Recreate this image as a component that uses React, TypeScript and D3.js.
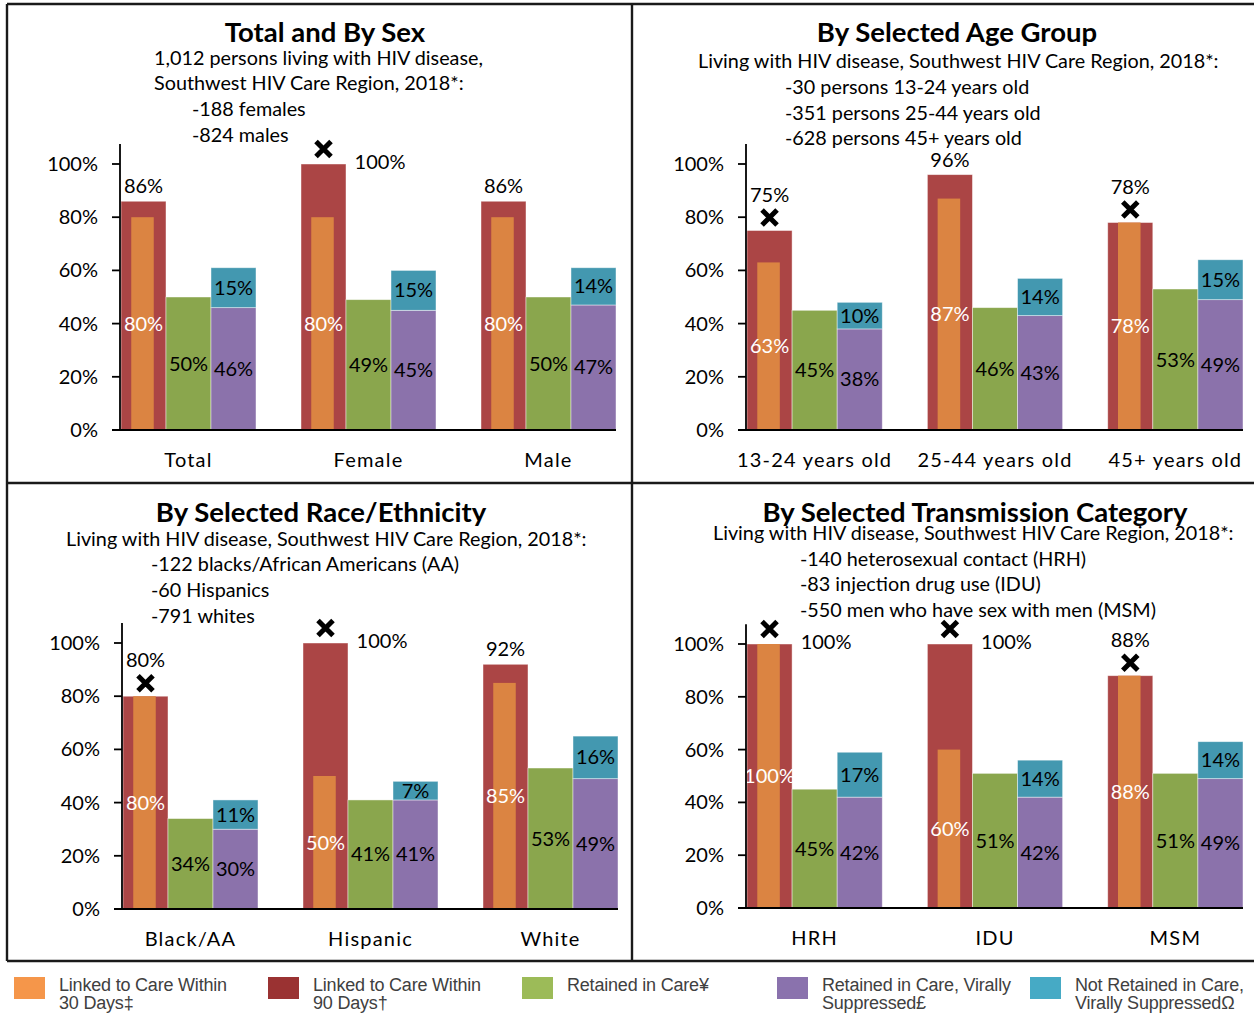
import React from "react";
import * as d3 from "d3";

// ---------- DATA ----------
const sexCategories = ["Total", "Female", "Male"];
const sexLinked90 = [86, 100, 86];
const sexLinked30 = [80, 80, 80];
const sexRetained = [50, 49, 50];
const sexSuppressed = [46, 45, 47];
const sexNotRetained = [15, 15, 14];
const sexMarked = [false, true, false];
const sexTitle = "Total and By Sex";
const sexNotes = [
  "1,012 persons living with HIV disease,",
  "Southwest HIV Care Region, 2018*:",
  "-188 females",
  "-824 males",
];

const ageCategories = ["13-24 years old", "25-44 years old", "45+ years old"];
const ageLinked90 = [75, 96, 78];
const ageLinked30 = [63, 87, 78];
const ageRetained = [45, 46, 53];
const ageSuppressed = [38, 43, 49];
const ageNotRetained = [10, 14, 15];
const ageMarked = [true, false, true];
const ageTitle = "By Selected Age Group";
const ageNotes = [
  "Living with HIV disease, Southwest HIV Care Region, 2018*:",
  "-30 persons 13-24 years old",
  "-351 persons 25-44 years old",
  "-628 persons 45+ years old",
];

const raceCategories = ["Black/AA", "Hispanic", "White"];
const raceLinked90 = [80, 100, 92];
const raceLinked30 = [80, 50, 85];
const raceRetained = [34, 41, 53];
const raceSuppressed = [30, 41, 49];
const raceNotRetained = [11, 7, 16];
const raceMarked = [true, true, false];
const raceTitle = "By Selected Race/Ethnicity";
const raceNotes = [
  "Living with HIV disease, Southwest HIV Care Region, 2018*:",
  "-122 blacks/African Americans (AA)",
  "-60 Hispanics",
  "-791 whites",
];

const transCategories = ["HRH", "IDU", "MSM"];
const transLinked90 = [100, 100, 88];
const transLinked30 = [100, 60, 88];
const transRetained = [45, 51, 51];
const transSuppressed = [42, 42, 49];
const transNotRetained = [17, 14, 14];
const transMarked = [true, true, true];
const transTitle = "By Selected Transmission Category";
const transNotes = [
  "Living with HIV disease, Southwest HIV Care Region, 2018*:",
  "-140 heterosexual contact (HRH)",
  "-83 injection drug use (IDU)",
  "-550 men who have sex with men (MSM)",
];

const yTicks = [0, 20, 40, 60, 80, 100];

const legendLabels = [
  ["Linked to Care Within", "30 Days\u2021"],
  ["Linked to Care Within", "90 Days\u2020"],
  ["Retained in Care\u00A5"],
  ["Retained in Care, Virally", "Suppressed\u00A3"],
  ["Not Retained in Care,", "Virally Suppressed\u03A9"],
];

// ---------- STYLE ----------
const C = {
  red: "#AB4545",
  orange: "#DB8442",
  green: "#8AA64D",
  purple: "#8B72AB",
  teal: "#4398B0",
};
const legendColors = ["#F5964A", "#9A3232", "#9CBB58", "#8A72AD", "#46AAC5"];
const FONT = "Lato, 'Open Sans', sans-serif";

type PanelData = {
  title: string;
  notes: string[];
  categories: string[];
  linked90: number[];
  linked30: number[];
  retained: number[];
  suppressed: number[];
  notRetained: number[];
  marked: boolean[];
};

type Layout = {
  titleX: number;
  titleY: number;
  notes: { x: number; y: number }[];
  xRange: [number, number];
  y0: number;
  y100: number;
  catY: number;
};

const panels: PanelData[] = [
  { title: sexTitle, notes: sexNotes, categories: sexCategories, linked90: sexLinked90, linked30: sexLinked30, retained: sexRetained, suppressed: sexSuppressed, notRetained: sexNotRetained, marked: sexMarked },
  { title: ageTitle, notes: ageNotes, categories: ageCategories, linked90: ageLinked90, linked30: ageLinked30, retained: ageRetained, suppressed: ageSuppressed, notRetained: ageNotRetained, marked: ageMarked },
  { title: raceTitle, notes: raceNotes, categories: raceCategories, linked90: raceLinked90, linked30: raceLinked30, retained: raceRetained, suppressed: raceSuppressed, notRetained: raceNotRetained, marked: raceMarked },
  { title: transTitle, notes: transNotes, categories: transCategories, linked90: transLinked90, linked30: transLinked30, retained: transRetained, suppressed: transSuppressed, notRetained: transNotRetained, marked: transMarked },
];

const layouts: Layout[] = [
  {
    titleX: 325, titleY: 32,
    notes: [{ x: 154, y: 58 }, { x: 154, y: 83 }, { x: 192, y: 109 }, { x: 192, y: 135 }],
    xRange: [121, 616], y0: 430, y100: 164, catY: 460,
  },
  {
    titleX: 957, titleY: 32,
    notes: [{ x: 698, y: 61 }, { x: 785, y: 87 }, { x: 785, y: 113 }, { x: 785, y: 138 }],
    xRange: [747, 1243], y0: 430, y100: 164, catY: 460,
  },
  {
    titleX: 321, titleY: 512,
    notes: [{ x: 66, y: 539 }, { x: 151, y: 564 }, { x: 151, y: 590 }, { x: 151, y: 616 }],
    xRange: [123, 618], y0: 909, y100: 643, catY: 939,
  },
  {
    titleX: 975, titleY: 512,
    notes: [{ x: 713, y: 533 }, { x: 800, y: 559 }, { x: 800, y: 584 }, { x: 800, y: 610 }],
    xRange: [747, 1243], y0: 908, y100: 644, catY: 938,
  },
];

function XMark({ cx, cy }: { cx: number; cy: number }) {
  const h = 7.5;
  const p = d3.path();
  p.moveTo(cx - h, cy - h);
  p.lineTo(cx + h, cy + h);
  p.moveTo(cx + h, cy - h);
  p.lineTo(cx - h, cy + h);
  return <path d={p.toString()} stroke="#000" strokeWidth={5} fill="none" />;
}

function Panel({ data, layout }: { data: PanelData; layout: Layout }) {
  const y = d3.scaleLinear().domain([0, 100]).range([layout.y0, layout.y100]);
  const x = d3
    .scaleBand<string>()
    .domain(data.categories)
    .range(layout.xRange)
    .paddingInner(0.25)
    .paddingOuter(0);
  const sub = d3
    .scaleBand<string>()
    .domain(["linked", "retained", "suppressed"])
    .range([0, x.bandwidth()]);
  const bw = sub.bandwidth();
  const axisX = layout.xRange[0] - 1;
  const edge = "rgba(255,255,255,0.55)";
  const lblSize = 20;

  return (
    <g fontFamily={FONT}>
      <text x={layout.titleX} y={layout.titleY} dy="0.35em" textAnchor="middle" fontWeight="bold" fontSize={27.5}>
        {data.title}
      </text>
      {data.notes.map((n, i) => (
        <text key={i} x={layout.notes[i].x} y={layout.notes[i].y} dy="0.35em" fontSize={19.8}>
          {n}
        </text>
      ))}

      {/* bars */}
      {data.categories.map((c, i) => {
        const x0 = x(c)!;
        const xl = x0 + sub("linked")!;
        const xr = x0 + sub("retained")!;
        const xs = x0 + sub("suppressed")!;
        const v90 = data.linked90[i];
        const v30 = data.linked30[i];
        const vr = data.retained[i];
        const vs = data.suppressed[i];
        const vn = data.notRetained[i];
        const redC = xl + bw / 2;
        const ow = bw * 0.5;
        const top90 = y(v90);
        let redLabel: React.ReactNode;
        let mark: React.ReactNode = null;
        if (v90 >= 100) {
          mark = data.marked[i] ? <XMark cx={redC} cy={top90 - 15} /> : null;
          redLabel = (
            <text x={xl + bw + 34} y={top90 - 2} dy="0.35em" textAnchor="middle" fontSize={lblSize}>
              {v90}%
            </text>
          );
        } else if (data.marked[i]) {
          mark = <XMark cx={redC} cy={top90 - 13} />;
          redLabel = (
            <text x={redC} y={top90 - 36} dy="0.35em" textAnchor="middle" fontSize={lblSize}>
              {v90}%
            </text>
          );
        } else {
          redLabel = (
            <text x={redC} y={top90 - 15} dy="0.35em" textAnchor="middle" fontSize={lblSize}>
              {v90}%
            </text>
          );
        }
        return (
          <g key={c}>
            <rect x={xl} y={top90} width={bw} height={y(0) - top90} fill={C.red} stroke={edge} strokeWidth={0.8} />
            <rect x={redC - ow / 2 - 1} y={y(v30)} width={ow} height={y(0) - y(v30)} fill={C.orange} />
            <rect x={xr} y={y(vr)} width={bw} height={y(0) - y(vr)} fill={C.green} stroke={edge} strokeWidth={0.8} />
            <rect x={xs} y={y(vs)} width={bw} height={y(0) - y(vs)} fill={C.purple} stroke={edge} strokeWidth={0.8} />
            <rect x={xs} y={y(vs + vn)} width={bw} height={y(vs) - y(vs + vn)} fill={C.teal} stroke={edge} strokeWidth={0.8} />
            {mark}
            {redLabel}
            <text x={redC} y={y(v30 / 2)} dy="0.35em" textAnchor="middle" fontSize={lblSize} fill="#fff">
              {v30}%
            </text>
            <text x={xr + bw / 2} y={y(vr / 2)} dy="0.35em" textAnchor="middle" fontSize={lblSize}>
              {vr}%
            </text>
            <text x={xs + bw / 2} y={y(vs / 2)} dy="0.35em" textAnchor="middle" fontSize={lblSize}>
              {vs}%
            </text>
            <text x={xs + bw / 2} y={y(vs + vn / 2)} dy="0.35em" textAnchor="middle" fontSize={lblSize}>
              {vn}%
            </text>
            <text x={x0 + x.bandwidth() / 2} y={layout.catY} dy="0.35em" textAnchor="middle" fontSize={20} letterSpacing={1.2}>
              {c}
            </text>
          </g>
        );
      })}

      {/* y axis */}
      <line x1={axisX} x2={axisX} y1={y(0)} y2={y(107.5)} stroke="#000" strokeWidth={1.8} />
      {yTicks.map((t) => (
        <g key={t}>
          <line x1={axisX - 8} x2={axisX} y1={y(t)} y2={y(t)} stroke="#000" strokeWidth={1.8} />
          <text x={axisX - 22} y={y(t)} dy="0.35em" textAnchor="end" fontSize={20}>
            {t}%
          </text>
        </g>
      ))}
      {/* x axis baseline */}
      <line x1={axisX - 8} x2={layout.xRange[1]} y1={y(0)} y2={y(0)} stroke="#000" strokeWidth={2} />
    </g>
  );
}

const legendX = [14, 268, 522, 777, 1030];

export default function App() {
  return (
    <svg
      width={1254}
      height={1015}
      style={{ position: "absolute", left: 0, top: 0, background: "#fff" }}
    >
      <rect x={0} y={0} width={1254} height={1015} fill="#fff" />
      {/* panel frames */}
      <g stroke="#1a1a1a" strokeWidth={2.4} fill="none">
        <line x1={7} x2={1260} y1={4} y2={4} />
        <line x1={7} x2={1260} y1={483} y2={483} />
        <line x1={7} x2={1260} y1={961} y2={961} />
        <line x1={7} x2={7} y1={4} y2={961} />
        <line x1={632} x2={632} y1={4} y2={961} />
      </g>
      {panels.map((p, i) => (
        <Panel key={i} data={p} layout={layouts[i]} />
      ))}
      {/* legend */}
      <g fontFamily="'Liberation Sans', Arial, sans-serif" fontSize={18} fill="#404040">
        {legendLabels.map((lines, i) => (
          <g key={i}>
            <rect x={legendX[i]} y={977} width={31} height={22} fill={legendColors[i]} />
            {lines.map((ln, j) => (
              <text key={j} x={legendX[i] + 45} y={991 + j * 18} letterSpacing={-0.2}>
                {ln}
              </text>
            ))}
          </g>
        ))}
      </g>
    </svg>
  );
}
